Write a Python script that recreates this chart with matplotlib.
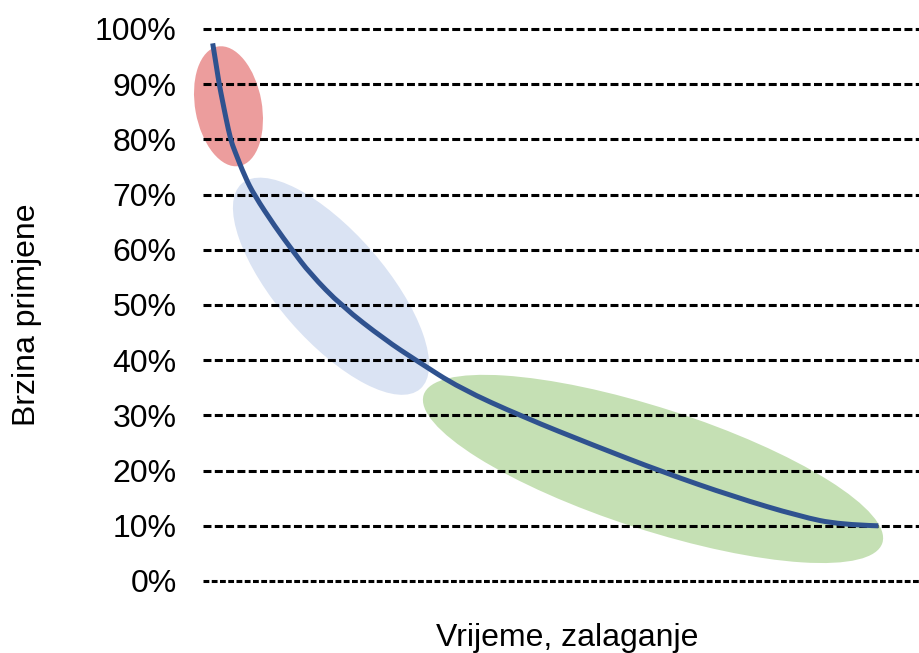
import matplotlib
matplotlib.use("Agg")
import matplotlib.pyplot as plt
from matplotlib.patches import Ellipse, PathPatch
from matplotlib.path import Path
from matplotlib.transforms import Affine2D
from matplotlib.ticker import PercentFormatter

plt.rcParams['font.family'] = ['Liberation Sans', 'DejaVu Sans']

# --- data ---
y_ticks = [0.0, 0.1, 0.2, 0.3, 0.4, 0.5, 0.6, 0.7, 0.8, 0.9, 1.0]
curve_x = [1.355, 1.913, 2.277, 2.751, 3.212, 3.869, 4.372, 5.866, 7.165, 10.056,
           12.430, 14.944, 19.372, 25.419, 29.846, 35.894, 44.735, 54.511,
           64.288, 74.064, 83.380, 88.966, 94.316]
curve_y = [0.974, 0.929, 0.899, 0.868, 0.838, 0.799, 0.781, 0.732, 0.699, 0.642,
           0.600, 0.557, 0.498, 0.437, 0.399, 0.349, 0.297, 0.246,
           0.197, 0.153, 0.117, 0.102, 0.100]
# ellipse centres (data units) with semi-axes (pixels) and tilt (degrees)
ell_cx = [3.56, 17.88, 62.85]
ell_cy = [0.860, 0.534, 0.203]
ell_a = [60.7, 136, 241]
ell_b = [33.3, 54, 61]
ell_ang = [-79.8, -49.0, -17.9]
ell_col = ['#EC9D9D', '#DAE3F3', '#C5E0B4']

W, H = 919, 653
fig = plt.figure(figsize=(W / 100, H / 100), dpi=100)
L, R, B, T = 203, 919, 581, 29
ax = fig.add_axes([L / W, (H - B) / H, (R - L) / W, (B - T) / H])
ax.set_xlim(0, 100)
ax.set_ylim(0, 1)

sx = (R - L) / 100.0
sy = (B - T) / 1.0
tr = Affine2D().scale(1 / sx, 1 / sy) + ax.transData
for cx, cy, a, b, ang, col in zip(ell_cx, ell_cy, ell_a, ell_b, ell_ang, ell_col):
    e = Ellipse((cx * sx, cy * sy), 2 * a, 2 * b, angle=ang, transform=tr,
                facecolor=col, edgecolor='none', zorder=1, clip_on=False)
    ax.add_patch(e)

for yv in y_ticks:
    if yv == 0:
        ax.axhline(yv, color='black', lw=2.2, dashes=(1.9, 0.8), zorder=2, clip_on=False)
    else:
        ax.axhline(yv, color='black', lw=2.2, dashes=(2.6, 1.1), zorder=2, clip_on=False)

# smoothed line (quadratic Bezier through the read points, like a "smoothed line" chart)
pts = list(zip(curve_x, curve_y))
verts = [pts[0]]
codes = [Path.MOVETO]
for i in range(1, len(pts) - 1):
    mid = ((pts[i][0] + pts[i + 1][0]) / 2, (pts[i][1] + pts[i + 1][1]) / 2)
    if i == len(pts) - 2:
        mid = pts[-1]
    verts += [pts[i], mid]
    codes += [Path.CURVE3, Path.CURVE3]
path = Path(verts, codes)
ax.add_patch(PathPatch(path, facecolor='none', edgecolor='#2F528F', lw=3.6,
                       capstyle='butt', joinstyle='round', zorder=3, clip_on=False))

for s in ax.spines.values():
    s.set_visible(False)
ax.set_xticks([])
ax.set_yticks(y_ticks)
ax.yaxis.set_major_formatter(PercentFormatter(1.0, decimals=0))
ax.tick_params(axis='y', length=0, pad=19, labelsize=23)

fig.text(27 / W, 1 - 315 / H, 'Brzina primjene', rotation=90, ha='center', va='center', fontsize=23)
fig.text(567 / W, 1 - 646 / H, 'Vrijeme, zalaganje', ha='center', va='baseline', fontsize=23)

fig.savefig('out.png', dpi=100)
